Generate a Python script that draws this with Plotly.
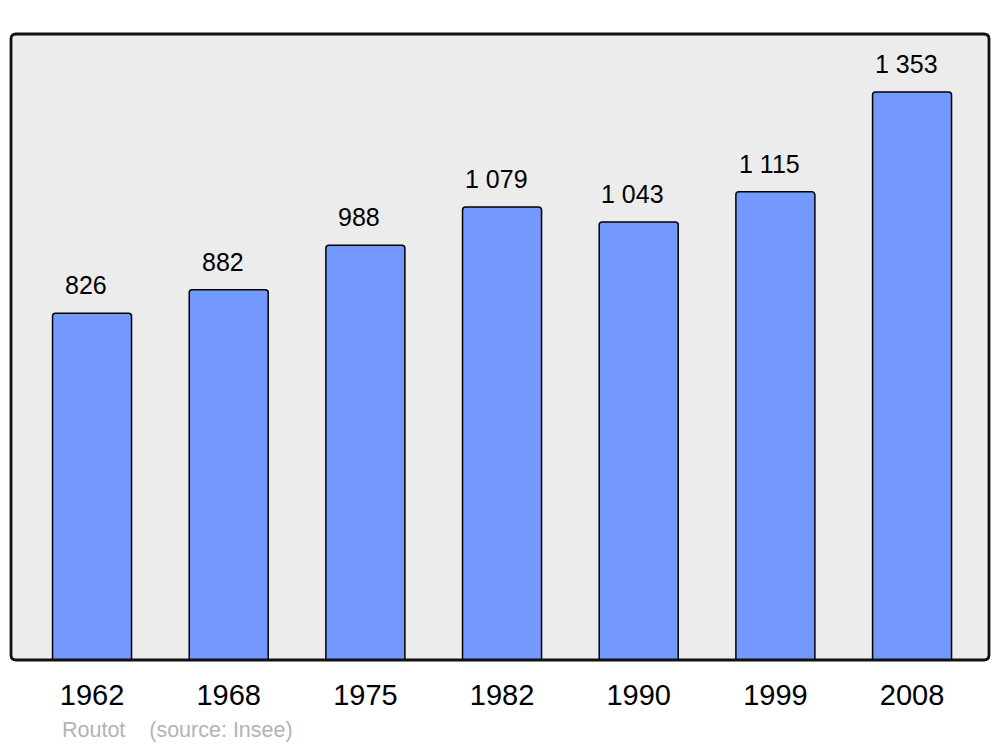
import plotly.graph_objects as go

years = ["1962", "1968", "1975", "1982", "1990", "1999", "2008"]
population = [826, 882, 988, 1079, 1043, 1115, 1353]
value_labels = ["826", "882", "988", "1 079", "1 043", "1 115", "1 353"]
source_text = "Routot    (source: Insee)"

xs = list(range(len(years)))

# page body has an 8px default margin; compensate so the plot lands where the reference is
OFF = 8
W, H = 1000 - OFF, 747 - OFF
L, T = 11 - OFF, 34 - OFF
R = W - (989 - OFF)
B = H - (660 - OFF)
plot_w, plot_h = W - L - R, H - T - B

fig = go.Figure()
fig.add_trace(go.Bar(
    x=xs, y=population, width=0.578,
    marker=dict(color="#7399ff", line=dict(color="#000000", width=1.5), cornerradius=3),
    hoverinfo="skip",
))

for x, v, t in zip(xs, population, value_labels):
    fig.add_annotation(x=x, y=v, text=t, showarrow=False, yshift=28, xshift=-6,
                       yanchor="middle", font=dict(size=25, color="#000000",
                                                   family="Liberation Sans"))

fig.add_annotation(xref="paper", yref="paper", x=(60 - 11) / plot_w, y=(660 - 730) / plot_h,
                   xanchor="left", yanchor="middle", text=source_text, showarrow=False,
                   font=dict(size=21.5, color="#b3b3b3", family="Liberation Sans"))

rx, ry = 5 / plot_w, 5 / plot_h
path = (f"M {rx},0 L {1-rx},0 Q 1,0 1,{ry} L 1,{1-ry} Q 1,1 {1-rx},1 "
        f"L {rx},1 Q 0,1 0,{1-ry} L 0,{ry} Q 0,0 {rx},0 Z")
fig.add_shape(type="path", xref="paper", yref="paper", path=path,
              line=dict(color="#111111", width=2.8), layer="above")

fig.update_layout(
    width=W, height=H,
    margin=dict(l=L, r=R, t=T, b=B),
    paper_bgcolor="#ffffff", plot_bgcolor="#ececec",
    showlegend=False,
    font=dict(family="Liberation Sans", color="#000000"),
    xaxis=dict(range=[-0.593, 6.563], tickvals=xs, ticktext=years, ticks="",
               showgrid=False, zeroline=False, showline=False,
               tickfont=dict(size=29, color="#000000"), ticklabelstandoff=15,
               fixedrange=True),
    yaxis=dict(range=[0, 1491], visible=False, showgrid=False, zeroline=False,
               fixedrange=True),
)

fig.write_html("out.html")
